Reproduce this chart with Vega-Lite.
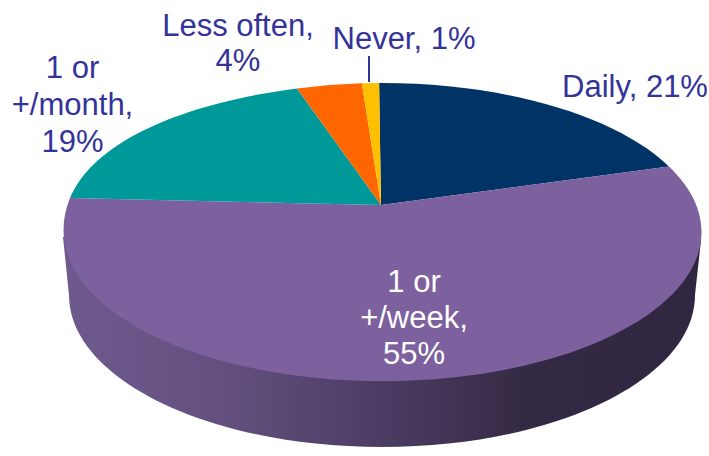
{
"$schema":"https://vega.github.io/schema/vega-lite/v6.json",
"width":709,"height":456,"padding":0,"autosize":{"type":"none"},"background":"white",
"config":{"view":{"stroke":null}},
"data":{"values":[
{"category":"Daily","share":21,"label":"Daily, 21%"},
{"category":"1 or +/week","share":55,"label":"1 or\n+/week,\n55%"},
{"category":"1 or +/month","share":19,"label":"1 or\n+/month,\n19%"},
{"category":"Less often","share":4,"label":"Less often,\n4%"},
{"category":"Never","share":1,"label":"Never, 1%"}
]},
"resolve":{"scale":{"shape":"independent","color":"independent"}},
"layer":[
{"transform":[{"filter":"datum.category === '1 or +/week'"}],
 "mark":{"type":"point","filled":true,"opacity":1,"size":4,"strokeWidth":0,
  "fill":{"gradient":"linear","x1":0,"y1":0,"x2":1,"y2":0,"stops":[{"offset":0,"color":"#6f5a8e"},{"offset":0.25,"color":"#63507f"},{"offset":0.5,"color":"#4c3c63"},{"offset":0.72,"color":"#352a45"},{"offset":1,"color":"#2f2640"}]}},
 "encoding":{"shape":{"field":"category","type":"nominal","legend":null,"scale":{"domain":["1 or +/week"],"range":["M-291.5 9L-285.5 67C-285.5 151 -145.4 219 27.5 219C200.4 219 340.5 151 340.5 67L346.5 12Z"]}}}},
{"mark":{"type":"point","filled":true,"opacity":1,"size":4,"strokeWidth":0},
 "encoding":{
  "shape":{"field":"category","type":"nominal","legend":null,"scale":{"domain":["Daily","1 or +/week","1 or +/month","Less often","Never"],"range":[
   "M26.5 -23L24.6 -145C147.6 -145.6 260.4 -113.2 314.5 -61.6Z",
   "M26.5 -23L314.5 -61.6C375.5 -3.5 349.1 66.5 249.2 111.4C149.3 156.3 -1.1 165.9 -123.2 135.2C-245.3 104.5 -313 40 -284.5 -30Z",
   "M26.5 -23L-57.5 -139.6C-175 -124.3 -262 -85 -284.5 -30Z",
   "M26.5 -23L7.4 -144.7L-25.2 -142.9L-57.5 -139.6Z",
   "M26.5 -23L7.4 -144.7L24.6 -145Z"]}},
  "color":{"field":"category","type":"nominal","legend":null,"scale":{"domain":["Daily","1 or +/week","1 or +/month","Less often","Never"],"range":["#003366","#7c619e","#009999","#ff6600","#ffc000"]}}}},
{"transform":[{"filter":"datum.category === 'Never'"}],
 "mark":{"type":"point","filled":false,"opacity":1,"size":4,"strokeWidth":2,"stroke":"#333399"},
 "encoding":{"shape":{"field":"category","type":"nominal","legend":null,"scale":{"domain":["Never"],"range":["M14.5 -172L14.5 -146"]}}}},
{"transform":[{"filter":"datum.category === 'Daily'"}],
 "mark":{"type":"text","font":"Liberation Sans","fontSize":31,"lineHeight":36,"lineBreak":"\n","align":"center","baseline":"middle","fill":"#333399","dx":280.5,"dy":-140},
 "encoding":{"text":{"field":"label"}}},
{"transform":[{"filter":"datum.category === '1 or +/week'"}],
 "mark":{"type":"text","font":"Liberation Sans","fontSize":31,"lineHeight":36,"lineBreak":"\n","align":"center","baseline":"middle","fill":"white","dx":59.5,"dy":55},
 "encoding":{"text":{"field":"label"}}},
{"transform":[{"filter":"datum.category === '1 or +/month'"}],
 "mark":{"type":"text","font":"Liberation Sans","fontSize":31,"lineHeight":37,"lineBreak":"\n","align":"center","baseline":"middle","fill":"#333399","dx":-282,"dy":-159},
 "encoding":{"text":{"field":"label"}}},
{"transform":[{"filter":"datum.category === 'Less often'"}],
 "mark":{"type":"text","font":"Liberation Sans","fontSize":31,"lineHeight":35,"lineBreak":"\n","align":"center","baseline":"middle","fill":"#333399","dx":-116.5,"dy":-201},
 "encoding":{"text":{"field":"label"}}},
{"transform":[{"filter":"datum.category === 'Never'"}],
 "mark":{"type":"text","font":"Liberation Sans","fontSize":31,"align":"center","baseline":"middle","fill":"#333399","dx":49.5,"dy":-188},
 "encoding":{"text":{"field":"label"}}}
]
}
